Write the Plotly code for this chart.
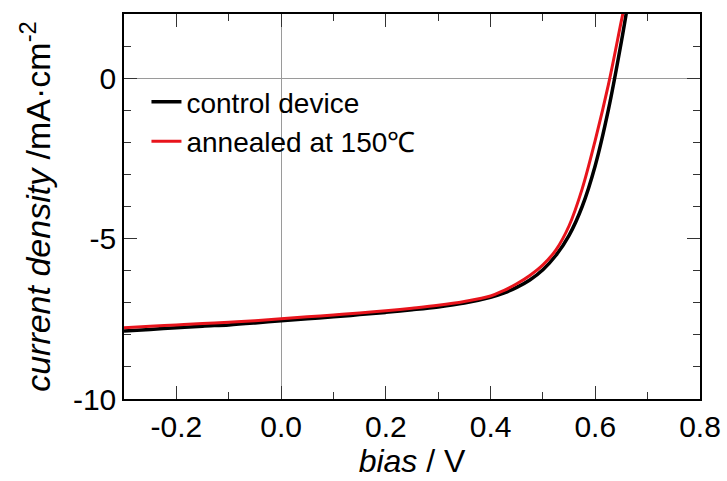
import plotly.graph_objects as go

bias = [-0.3, -0.25, -0.2, -0.15, -0.1, -0.05, 0.0, 0.05, 0.1, 0.15, 0.2, 0.25, 0.3, 0.35,
        0.4, 0.425, 0.45, 0.475, 0.5, 0.525, 0.55, 0.575, 0.6, 0.625, 0.65, 0.665]
control = [-7.88, -7.83, -7.78, -7.73, -7.69, -7.63, -7.56, -7.50, -7.44, -7.37, -7.30, -7.22,
           -7.13, -7.01, -6.83, -6.70, -6.52, -6.29, -5.97, -5.52, -4.90, -4.00, -2.72, -0.99,
           1.15, 2.6]
annealed = [-7.78, -7.73, -7.69, -7.65, -7.61, -7.56, -7.50, -7.44, -7.38, -7.32, -7.25, -7.17,
            -7.08, -6.96, -6.79, -6.62, -6.41, -6.15, -5.82, -5.35, -4.60, -3.45, -1.93, -0.21,
            1.80, 3.0]

x_tickvals = [-0.2, 0.0, 0.2, 0.4, 0.6, 0.8]
x_ticktext = ["-0.2", "0.0", "0.2", "0.4", "0.6", "0.8"]
y_tickvals = [-10, -5, 0]
y_ticktext = ["-10", "-5", "0"]

FONT = "Liberation Sans, Arial, sans-serif"

fig = go.Figure()
fig.add_trace(go.Scatter(x=bias, y=control, mode="lines", name="control device",
                         line=dict(color="#000000", width=3.5, shape="spline", smoothing=1)))
fig.add_trace(go.Scatter(x=bias, y=annealed, mode="lines", name="annealed at 150\u2103",
                         line=dict(color="#e8141c", width=3, shape="spline", smoothing=1)))

axis_common = dict(
    showline=True, linecolor="#000000", linewidth=1.5, mirror="ticks",
    ticks="inside", ticklen=13, tickwidth=1.2, tickcolor="#333333",
    showgrid=False, zeroline=True, zerolinecolor="#9a9a9a", zerolinewidth=1.2,
    tickfont=dict(family=FONT, size=30, color="#000000"),
    automargin=False,
)

fig.update_xaxes(range=[-0.3, 0.8], tickvals=x_tickvals, ticktext=x_ticktext,
                 minor=dict(ticks="inside", ticklen=7, tickcolor="#333333", dtick=0.1, tick0=0, showgrid=False),
                 title=dict(text="<i>bias</i> / V", font=dict(family=FONT, size=32, color="#000000"), standoff=2),
                 **axis_common)
fig.update_yaxes(range=[-10, 2], tickvals=y_tickvals, ticktext=y_ticktext,
                 minor=dict(ticks="inside", ticklen=7, tickcolor="#333333", dtick=1, tick0=0, showgrid=False),
                 title=dict(text="<i>current density</i> /mA\u00b7cm<sup>-2</sup>",
                            font=dict(family=FONT, size=34, color="#000000"), standoff=12),
                 **axis_common)

fig.update_layout(
    width=727, height=481,
    margin=dict(l=124, r=27, t=14, b=82),
    plot_bgcolor="#ffffff", paper_bgcolor="#ffffff",
    showlegend=True,
    legend=dict(x=0.039, y=0.836, xanchor="left", yanchor="top",
                bgcolor="rgba(0,0,0,0)", borderwidth=0,
                font=dict(family=FONT, size=28, color="#000000"),
                tracegroupgap=0),
)

fig.write_html("out.html", config={"displayModeBar": False},
               post_script="document.body.style.margin='0';document.body.style.overflow='hidden';")
